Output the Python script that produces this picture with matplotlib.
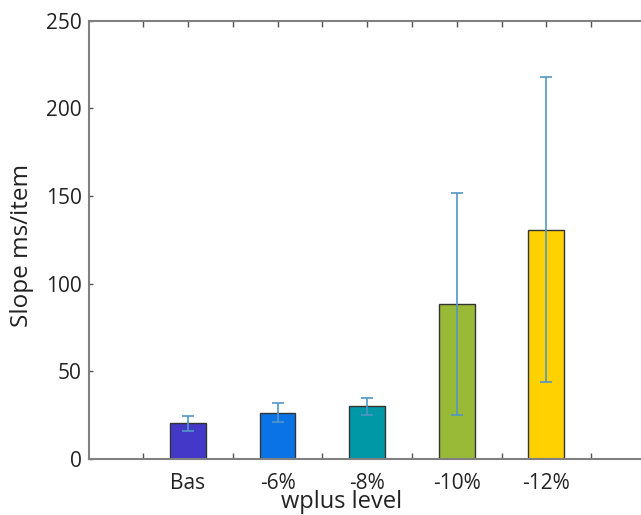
import matplotlib
matplotlib.use("Agg")
import matplotlib.pyplot as plt
import numpy as np

categories = ["Bas", "-6%", "-8%", "-10%", "-12%"]
slopes = [20.2, 26.3, 29.8, 88.4, 130.8]
errors = [4.3, 5.4, 5.0, 63.4, 87.2]
colors = ["#4338C8", "#0A74E6", "#0097A7", "#98BA37", "#FFD100"]

plt.rcParams['font.family'] = ['Open Sans', 'DejaVu Sans']

W, H = 641, 515
fig = plt.figure(figsize=(W / 100, H / 100), dpi=100)
left, right = 89.3, 645.0
top, bottom = 20.7, 458.7
ax = fig.add_axes([left / W, 1 - bottom / H, (right - left) / W, (bottom - top) / H])

x = np.arange(1, len(categories) + 1)
ax.bar(x, slopes, width=0.4, color=colors, edgecolor="#333333", linewidth=1.0, zorder=2)
ax.errorbar(x, slopes, yerr=errors, fmt="none", ecolor="#5296C6", elinewidth=1.2,
            capsize=4.3, capthick=1.2, zorder=3)

ax.set_xlim(-0.1, 6.1)
ax.set_ylim(0, 250)
ax.set_xticks(np.arange(0.5, 6.0, 0.5))
ax.set_xticklabels([])
ax.set_yticks([0, 50, 100, 150, 200, 250])
ax.tick_params(axis="both", direction="in", length=3, width=1, color="#555555",
               top=True, right=True, labelsize=15, labelcolor="#222222", pad=5.5)
ax.tick_params(axis="x", length=4)
for xi, lab in zip(x, categories):
    ax.text(xi, -8, lab, ha="center", va="top", fontsize=15, color="#222222",
            transform=ax.transData)

for s in ax.spines.values():
    s.set_color("#808080")
    s.set_linewidth(1.5)
ax.spines["right"].set_visible(False)

fig.text(22 / W, 1 - 245 / H, "Slope ms/item", rotation=90, ha="center", va="center",
         fontsize=17.5, color="#222222")
fig.text(341.7 / W, 1 - 508.5 / H, "wplus level", ha="center", va="baseline",
         fontsize=17, color="#222222")

fig.savefig("out.png", dpi=100)
